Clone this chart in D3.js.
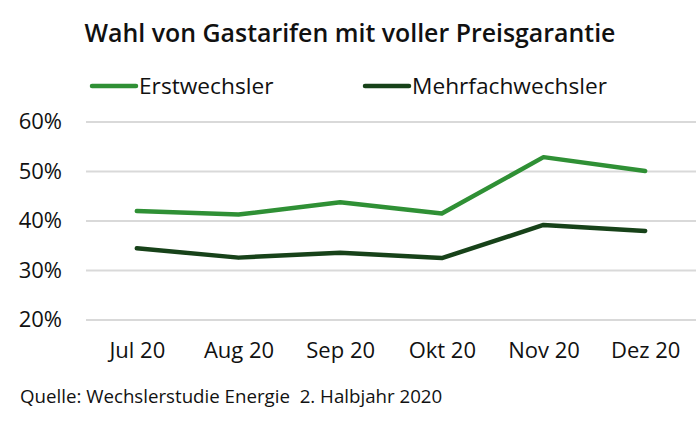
<!DOCTYPE html>
<html>
<head>
<meta charset="utf-8">
<script src="https://cdn.jsdelivr.net/npm/d3@7"></script>
<style>
  body { margin: 0; background: #fff; }
  svg text { font-family: "Open Sans", sans-serif; fill: #111; }
</style>
</head>
<body>
<div id="chart"></div>
<script>
const months = ["Jul 20", "Aug 20", "Sep 20", "Okt 20", "Nov 20", "Dez 20"];
const erstwechsler = [41.9, 41.2, 43.7, 41.4, 52.8, 50.0];
const mehrfachwechsler = [34.4, 32.5, 33.5, 32.4, 39.1, 37.9];
const yTicks = [20, 30, 40, 50, 60];

const series = [
  { name: "Erstwechsler", values: erstwechsler, color: "#2f9035" },
  { name: "Mehrfachwechsler", values: mehrfachwechsler, color: "#174219" },
];

const width = 700;
const height = 421;

const svg = d3
  .select("#chart")
  .append("svg")
  .attr("width", width)
  .attr("height", height);

let x = d3.scalePoint().domain(months).range([86, 696]).padding(0.5);
let y = d3.scaleLinear().domain([20, 60]).range([319.5, 121.5]);

// title
svg
  .append("text")
  .attr("x", 350)
  .attr("y", 42)
  .attr("text-anchor", "middle")
  .style("font-size", "24.9px")
  .style("font-weight", 600)
  .text("Wahl von Gastarifen mit voller Preisgarantie");

// legend
const legendX = [92, 365];
series.forEach((s, i) => {
  let g = svg.append("g").attr("transform", `translate(${legendX[i]},86)`);
  g.append("line")
    .attr("x1", 0)
    .attr("x2", 44)
    .attr("stroke", s.color)
    .attr("stroke-width", 4.5)
    .attr("stroke-linecap", "round");
  g.append("text")
    .attr("x", 47)
    .attr("y", 8)
    .style("font-size", "22.7px")
    .text(s.name);
});

// grid + y labels
let yAxis = d3
  .axisLeft(y)
  .tickValues(yTicks)
  .tickSize(-610)
  .tickFormat((d) => d + "%");

svg
  .append("g")
  .attr("class", "yAxis")
  .attr("transform", "translate(86,0)")
  .call(yAxis)
  .call((g) => g.select(".domain").remove())
  .call((g) =>
    g.selectAll(".tick line").attr("stroke", "#d9d9d9").attr("stroke-width", 2)
  )
  .call((g) =>
    g
      .selectAll(".tick text")
      .attr("x", -24)
      .style("font-size", "22px")
      .style("font-family", '"Open Sans", sans-serif')
      .attr("fill", "#111")
  );

// x labels
let xAxis = d3.axisBottom(x).tickSize(0);
svg
  .append("g")
  .attr("class", "xAxis")
  .attr("transform", "translate(0,339)")
  .call(xAxis)
  .call((g) => g.select(".domain").remove())
  .call((g) =>
    g
      .selectAll(".tick text")
      .style("font-size", "22px")
      .style("font-family", '"Open Sans", sans-serif')
      .attr("fill", "#111")
  );

// lines
series.forEach((s) => {
  svg
    .append("path")
    .datum(s.values)
    .attr("fill", "none")
    .attr("stroke", s.color)
    .attr("stroke-width", 4.5)
    .attr("stroke-linecap", "round")
    .attr("stroke-linejoin", "round")
    .attr(
      "d",
      d3
        .line()
        .x((d, i) => x(months[i]))
        .y((d) => y(d))
    );
});

// source
svg
  .append("text")
  .attr("x", 20)
  .attr("y", 403)
  .style("font-size", "18.7px")
  .attr("xml:space", "preserve")
  .text("Quelle: Wechslerstudie Energie  2. Halbjahr 2020");
</script>
</body>
</html>
